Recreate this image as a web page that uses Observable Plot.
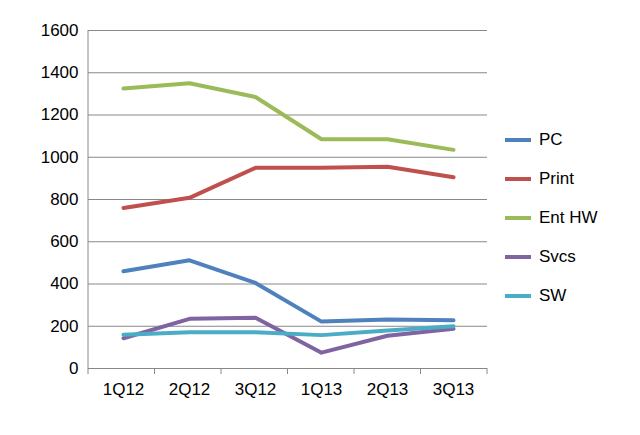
<!DOCTYPE html>
<html><head>
<script src="https://cdn.jsdelivr.net/npm/d3@7"></script>
<script src="https://cdn.jsdelivr.net/npm/@observablehq/plot@0.6"></script>
<style>
body{margin:0;background:#fff;font-family:"Liberation Sans",Arial,sans-serif;}
#wrap{position:relative;width:640px;height:435px;}
#legend{position:absolute;left:505px;top:120px;font-size:17px;}
.it{display:flex;align-items:center;height:39px;}
.sw{width:26px;height:4px;margin-right:8px;}
</style></head><body>
<div id="wrap"><div id="chart"></div><div id="legend"></div></div>
<script>
const quarters=["1Q12","2Q12","3Q12","1Q13","2Q13","3Q13"];
const seriesNames=["PC","Print","Ent HW","Svcs","SW"];
const colors=["#4F81BD","#C0504D","#9BBB59","#8064A2","#4BACC6"];
const PC=[460,512,405,222,232,228];
const Print=[760,808,950,950,955,905];
const EntHW=[1325,1350,1285,1085,1085,1035];
const Svcs=[143,235,240,75,155,188];
const SW=[160,172,172,158,180,200];
const yTicks=[0,200,400,600,800,1000,1200,1400,1600];
const vals=[PC,Print,EntHW,Svcs,SW];
const data=[];
seriesNames.forEach((s,i)=>quarters.forEach((q,j)=>data.push({s,q,v:vals[i][j]})));
const plot=Plot.plot({
  width:640,height:435,marginLeft:88,marginRight:153,marginTop:30,marginBottom:67,
  style:{fontSize:"17px",fontFamily:"Liberation Sans, Arial, sans-serif",color:"#000"},
  x:{type:"point",domain:quarters,padding:0.5,label:null},
  y:{domain:[0,1600],label:null},
  color:{domain:seriesNames,range:colors},
  marks:[
    Plot.gridY(yTicks,{stroke:"#888",strokeOpacity:1,strokeWidth:1}),
    Plot.line(data,{x:"q",y:"v",z:"s",stroke:"s",strokeWidth:4,curve:"linear"}),
    Plot.ruleY([0],{stroke:"#888"}),
    Plot.axisX({tickSize:0,tickPadding:14}),
    Plot.axisY({ticks:yTicks,tickSize:0,tickPadding:10,tickFormat:d=>String(d)})
  ]
});
document.getElementById("chart").appendChild(plot);
const svg=d3.select(plot);
svg.append("line").attr("x1",88).attr("x2",88).attr("y1",30).attr("y2",368).attr("stroke","#888");
const step=(487-88)/quarters.length;
for(let i=0;i<=quarters.length;i++){const x=88+i*step;svg.append("line").attr("x1",x).attr("x2",x).attr("y1",368).attr("y2",374).attr("stroke","#888");}
const lg=document.getElementById("legend");
seriesNames.forEach((s,i)=>{lg.innerHTML+=`<div class="it"><div class="sw" style="background:${colors[i]}"></div>${s}</div>`;});
</script></body></html>
